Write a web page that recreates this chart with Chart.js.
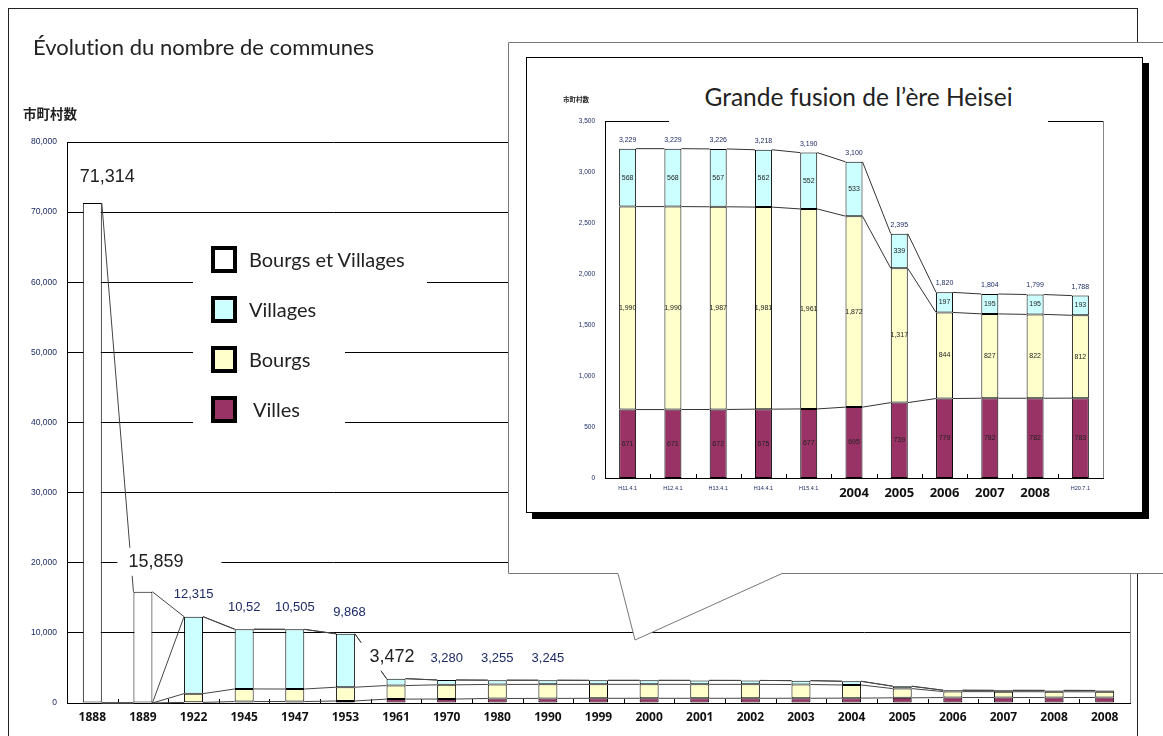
<!DOCTYPE html>
<html>
<head>
<meta charset="utf-8">
<script src="https://cdn.jsdelivr.net/npm/chart.js@4.4.0/dist/chart.umd.min.js"></script>
<style>
  body { margin: 0; width: 1163px; height: 736px; overflow: hidden; background: #fff; position: relative; font-family: Lato, "Open Sans", sans-serif; font-variant-ligatures: none; color: #222; }
  .abs { position: absolute; }
  #main { left: 0; top: 0; }
  #frame { left: 8px; top: 8px; width: 1130px; height: 760px; border: 1.5px solid #222; box-sizing: border-box; }
  #title { left: 33px; top: 32px; font-size: 22px; line-height: 30px; white-space: nowrap; }
  #ylab { left: 23px; top: 104px; font: bold 13.5px "Noto Sans CJK JP"; line-height: 18px; }
  #legend { left: 193px; top: 234px; }
  .item { height: 50px; background: #fff; display: flex; align-items: center; font-size: 20px; white-space: nowrap; }
  .sw { width: 26px; height: 27px; border: 4px solid #000; box-sizing: border-box; margin: 0 12px 0 18px; }
  #callout { left: 0; top: 0; }
  #inset { left: 526px; top: 57px; width: 617px; height: 456px; border: 1px solid #000; box-sizing: border-box; box-shadow: 6px 6px 0 #000; background: #fff; }
  #heisei { left: 527px; top: 58px; }
  #insetTitle { left: 669px; top: 76px; width: 379px; height: 48px; background: #fff; text-align: center; font-size: 24.5px; line-height: 42px; white-space: nowrap; }
  #insetYlab { left: 563px; top: 94px; font: bold 6.5px "Noto Sans CJK JP"; line-height: 10px; }
</style>
</head>
<body>
<canvas id="main" class="abs" width="1163" height="736"></canvas>
<div id="frame" class="abs"></div>
<div id="title" class="abs">Évolution du nombre de communes</div>
<div id="ylab" class="abs">市町村数</div>
<div id="legend" class="abs">
  <div class="item" style="width:234px"><span class="sw" style="background:#ffffff"></span>Bourgs et Villages</div>
  <div class="item" style="width:152px"><span class="sw" style="background:#ccffff"></span>Villages</div>
  <div class="item" style="width:152px"><span class="sw" style="background:#ffffcc"></span>Bourgs</div>
  <div class="item" style="width:152px"><span class="sw" style="background:#993366"></span><span style="margin-left:4px">Villes</span></div>
</div>
<svg id="callout" class="abs" width="1163" height="736">
  <polygon points="508.5,42.5 1170,42.5 1170,573.5 782,573.5 635,640 618,573.5 508.5,573.5" fill="#fff" stroke="#777" stroke-width="1"/>
</svg>
<div id="inset" class="abs"></div>
<canvas id="heisei" class="abs" width="615" height="454"></canvas>
<div id="insetTitle" class="abs">Grande fusion de l’ère Heisei</div>
<div id="insetYlab" class="abs">市町村数</div>

<script>
// Number of municipalities, by survey year
const years = ['1888', '1889', '1922', '1945', '1947', '1953', '1961', '1970', '1980', '1990', '1999',
  '2000', '2001', '2002', '2003', '2004', '2005', '2006', '2007', '2008', '2008'];
const villes = [0, 0, 91, 205, 210, 286, 556, 564, 646, 655, 671, 671, 672, 675, 677, 695, 739, 779, 782, 782, 783];
const bourgs = [0, 0, 1242, 1797, 1784, 1966, 1935, 2027, 2001, 2003, 1990, 1990, 1987, 1981, 1961, 1872, 1317, 844, 827, 822, 812];
const villages = [0, 0, 10982, 8518, 8511, 7616, 981, 689, 608, 587, 568, 568, 567, 562, 552, 533, 339, 197, 195, 195, 193];
const bourgsEtVillages = [71314, 15859, 0, 0, 0, 0, 0, 0, 0, 0, 0, 0, 0, 0, 0, 0, 0, 0, 0, 0, 0];
const totalLabels = ['71,314', '15,859', '12,315', '10,52', '10,505', '9,868', '3,472', '3,280', '3,255', '3,245'];

// Heisei mergers close-up
const heiseiDates = ['H11.4.1', 'H12.4.1', 'H13.4.1', 'H14.4.1', 'H15.4.1', '2004', '2005', '2006', '2007', '2008', 'H20.7.1'];
const heiseiVilles = [671, 671, 672, 675, 677, 695, 739, 779, 782, 782, 783];
const heiseiBourgs = [1990, 1990, 1987, 1981, 1961, 1872, 1317, 844, 827, 822, 812];
const heiseiVillages = [568, 568, 567, 562, 552, 533, 339, 197, 195, 195, 193];

const COLORS = { villes: '#993366', bourgs: '#ffffcc', villages: '#ccffff', both: '#ffffff' };
const NAVY = '#1d2b66';

// Excel-style series lines joining the top of each stacked segment
const seriesLines = {
  id: 'seriesLines',
  afterDatasetsDraw(chart, args, opts) {
    const { ctx } = chart;
    const y = chart.scales.y;
    let cum = chart.data.labels.map(() => 0);
    ctx.save();
    ctx.strokeStyle = opts.color;
    ctx.lineWidth = 1;
    chart.data.datasets.forEach((ds, d) => {
      cum = cum.map((c, i) => c + (ds.data[i] || 0));
      const bars = chart.getDatasetMeta(d).data;
      ctx.beginPath();
      for (let i = 0; i < bars.length - 1; i++) {
        const a = bars[i], b = bars[i + 1];
        ctx.moveTo(a.x + a.width / 2, y.getPixelForValue(cum[i]));
        ctx.lineTo(b.x - b.width / 2, y.getPixelForValue(cum[i + 1]));
      }
      ctx.stroke();
    });
    ctx.restore();
  }
};

// short ticks between categories, pointing up, plus the plot frame
const plotFrame = {
  id: 'plotFrame',
  afterDatasetsDraw(chart, args, opts) {
    const { ctx, chartArea: a } = chart;
    const x = chart.scales.x;
    ctx.save();
    ctx.lineWidth = 1;
    ctx.strokeStyle = '#000';
    ctx.beginPath();
    for (let i = 1; i < chart.data.labels.length; i++) {
      const px = Math.round((x.getPixelForValue(i - 1) + x.getPixelForValue(i)) / 2) + 0.5;
      ctx.moveTo(px, a.bottom);
      ctx.lineTo(px, a.bottom - 4);
    }
    ctx.stroke();
    if (opts.top) {
      ctx.beginPath();
      ctx.moveTo(a.left, Math.round(a.top) + 0.5);
      ctx.lineTo(a.right, Math.round(a.top) + 0.5);
      ctx.stroke();
    }
    ctx.strokeStyle = opts.right;
    ctx.beginPath();
    ctx.moveTo(Math.round(a.right) + 0.5, a.top);
    ctx.lineTo(Math.round(a.right) + 0.5, a.bottom);
    ctx.stroke();
    ctx.restore();
  }
};

// totals over the main bars; the big ones sit in white boxes over the lines
const totalStyle = {
  0: { size: 18, dx: 15, dy: -26, pad: [10, 10] },
  1: { size: 18, dx: 13, dy: -30, pad: [11, 38] },
  6: { size: 18, dx: -4, dy: -22, pad: [10, 6] },
  5: { size: 13, dx: 4, dy: -21 }
};
const mainTotals = {
  id: 'mainTotals',
  afterDatasetsDraw(chart) {
    const { ctx } = chart;
    const top = chart.getDatasetMeta(chart.data.datasets.length - 1).data;
    ctx.save();
    ctx.textAlign = 'center';
    ctx.textBaseline = 'middle';
    totalLabels.forEach((txt, i) => {
      if (!txt) return;
      const st = totalStyle[i] || { size: 13, dx: 0, dy: -22 };
      const cx = top[i].x + st.dx, cy = top[i].y + st.dy;
      ctx.font = st.size + 'px "Liberation Sans", Arial, sans-serif';
      if (st.pad) {
        const w = ctx.measureText(txt).width;
        ctx.fillStyle = '#fff';
        ctx.fillRect(cx - w / 2 - st.pad[0], cy - 14, w + st.pad[0] + st.pad[1], 28);
      }
      ctx.fillStyle = st.size > 13 ? '#222' : NAVY;
      ctx.fillText(txt, cx, cy);
    });
    ctx.restore();
  }
};

// values inside each segment and totals on top (close-up)
const segmentValues = {
  id: 'segmentValues',
  afterDatasetsDraw(chart) {
    const { ctx } = chart;
    const sets = chart.data.datasets;
    ctx.save();
    ctx.textAlign = 'center';
    ctx.textBaseline = 'middle';
    ctx.font = '7px "Liberation Sans", Arial, sans-serif';
    ctx.fillStyle = '#222';
    sets.forEach((ds, d) => {
      chart.getDatasetMeta(d).data.forEach((bar, i) => {
        ctx.fillText(ds.data[i].toLocaleString('en-US'), bar.x, (bar.y + bar.base) / 2);
      });
    });
    const top = chart.getDatasetMeta(sets.length - 1).data;
    ctx.fillStyle = NAVY;
    top.forEach((bar, i) => {
      const total = sets.reduce((s, ds) => s + ds.data[i], 0);
      ctx.fillText(total.toLocaleString('en-US'), bar.x, bar.y - 9);
    });
    ctx.restore();
  }
};

const barStyle = { borderColor: '#000', borderWidth: 1, borderSkipped: false, barPercentage: 0.375, categoryPercentage: 1 };

new Chart(document.getElementById('main'), {
  type: 'bar',
  data: {
    labels: years,
    datasets: [
      { label: 'Villes', data: villes, backgroundColor: COLORS.villes, ...barStyle },
      { label: 'Bourgs', data: bourgs, backgroundColor: COLORS.bourgs, ...barStyle },
      { label: 'Villages', data: villages, backgroundColor: COLORS.villages, ...barStyle },
      { label: 'Bourgs et Villages', data: bourgsEtVillages, backgroundColor: COLORS.both, ...barStyle }
    ]
  },
  options: {
    responsive: false,
    animation: false,
    layout: { padding: { top: 142, right: 33, left: 0, bottom: 0 } },
    plugins: {
      legend: { display: false },
      tooltip: { enabled: false },
      seriesLines: { color: '#444' },
      plotFrame: { top: false, right: '#888' }
    },
    scales: {
      x: {
        stacked: true,
        grid: { display: false, drawTicks: false },
        border: { color: '#000' },
        ticks: { font: { family: 'Open Sans', size: 12, weight: 'bold' }, color: '#111', padding: 7, maxRotation: 0, autoSkip: false },
        afterFit(s) { s.height = 33; }
      },
      y: {
        stacked: true,
        min: 0,
        max: 80000,
        ticks: { stepSize: 10000, callback: v => v.toLocaleString('en-US'), font: { family: 'Liberation Sans', size: 8.5 }, color: NAVY, padding: 10 },
        grid: { color: '#000', drawTicks: false },
        border: { color: '#000' },
        afterFit(s) { s.width = 67; }
      }
    }
  },
  plugins: [plotFrame, seriesLines, mainTotals]
});

const bigTick = i => i >= 5 && i <= 9;

new Chart(document.getElementById('heisei'), {
  type: 'bar',
  data: {
    labels: heiseiDates,
    datasets: [
      { label: 'Villes', data: heiseiVilles, backgroundColor: COLORS.villes, ...barStyle },
      { label: 'Bourgs', data: heiseiBourgs, backgroundColor: COLORS.bourgs, ...barStyle },
      { label: 'Villages', data: heiseiVillages, backgroundColor: COLORS.villages, ...barStyle }
    ]
  },
  options: {
    responsive: false,
    animation: false,
    layout: { padding: { top: 63, right: 39, left: 0, bottom: 0 } },
    plugins: {
      legend: { display: false },
      tooltip: { enabled: false },
      seriesLines: { color: '#333' },
      plotFrame: { top: true, right: '#888' }
    },
    scales: {
      x: {
        stacked: true,
        grid: { display: false, drawTicks: false },
        border: { color: '#000' },
        ticks: {
          font: ctx => bigTick(ctx.index)
            ? { family: 'Open Sans', size: 13, weight: 'bold' }
            : { family: 'Liberation Sans', size: 5.5 },
          color: ctx => bigTick(ctx.index) ? '#111' : NAVY,
          padding: 7, maxRotation: 0, autoSkip: false
        },
        afterFit(s) { s.height = 34; }
      },
      y: {
        stacked: true,
        min: 0,
        max: 3500,
        ticks: { stepSize: 500, callback: v => v.toLocaleString('en-US'), font: { family: 'Liberation Sans', size: 6.5 }, color: NAVY, padding: 10 },
        grid: { display: false, drawTicks: false },
        border: { color: '#000' },
        afterFit(s) { s.width = 78; }
      }
    }
  },
  plugins: [plotFrame, seriesLines, segmentValues]
});
</script>
</body>
</html>
